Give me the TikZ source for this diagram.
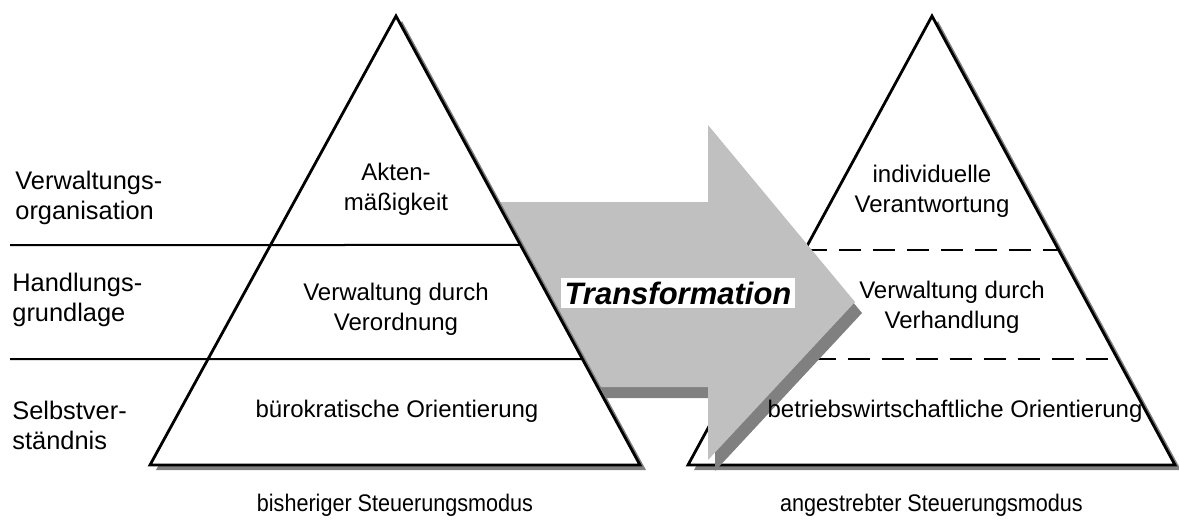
\documentclass[tikz,border=0pt]{standalone}
\usepackage{fontspec}
\setmainfont{Liberation Sans}
\newfontfamily\narrowsans[FakeStretch=0.9]{Liberation Sans}
\usepackage{xcolor}
\usepackage{tikz}
\usetikzlibrary{positioning,calc}

\definecolor{arrowgray}{HTML}{C0C0C0}
\definecolor{shadowgray}{HTML}{808080}

\begin{document}
\begin{tikzpicture}[x=0.5pt, y=-0.5pt, node distance=20pt,
		font=\fontsize{12}{15}\selectfont,
		pyramid/.style={draw, fill=white, line width=1.4pt},
		pshadow/.style={fill=shadowgray, draw=none},
		level/.style={line width=1pt},
		dlevel/.style={line width=1pt, dash pattern=on 11pt off 6pt},
		rowlabel/.style={align=left, anchor=west, inner sep=0pt, font=\fontsize{12.7}{15}\selectfont},
		field/.style={align=center, inner sep=0pt},
		caption/.style={inner sep=0pt, font=\narrowsans\fontsize{12}{15}\selectfont},
		trafo/.style={fill=white, inner sep=2pt, font=\fontsize{15.5}{18}\selectfont\bfseries\itshape}]
		\useasboundingbox (0,0) rectangle (1179,526);

		\coordinate (Ltop) at (396,16);
		\coordinate (Lleft) at (150,465);
		\coordinate (Lright) at (640,465);
		\coordinate (Rtop) at (932,16);
		\coordinate (Rleft) at (688,465);
		\coordinate (Rright) at (1175,465);

		% angestrebter Modus
		\fill[pshadow] ($(Rtop)+(6,5)$) -- ($(Rleft)+(6,5)$) -- ($(Rright)+(6,5)$) -- cycle;
		\draw[pyramid] (Rtop) -- (Rleft) -- (Rright) -- cycle;
		\draw[dlevel] ($(Rtop)!0.521!(Rleft)$) -- ($(Rtop)!0.521!(Rright)$);
		\draw[dlevel] ($(Rtop)!0.764!(Rleft)$) -- ($(Rtop)!0.764!(Rright)$);

		% Pfeil mit Schatten
		\foreach \dx/\dy/\col in {7/11/shadowgray, 0/0/arrowgray}
			\fill[\col, shift={(\dx,\dy)}] (480,202) -- (708,202) -- (708,125) -- (855,302)
				-- (708,460) -- (708,387) -- (480,387) -- cycle;

		% bisheriger Modus
		\fill[pshadow] ($(Ltop)+(6,5)$) -- ($(Lleft)+(6,5)$) -- ($(Lright)+(6,5)$) -- cycle;
		\draw[pyramid] (Ltop) -- (Lleft) -- (Lright) -- cycle;
		\coordinate (rowA) at (10,245);
		\coordinate (rowB) at (10,359);
		\draw[level] (rowA) -- ($(Ltop)!0.510!(Lright)$);
		\draw[level] (rowB) -- ($(Ltop)!0.764!(Lright)$);

		\node[trafo] (trafo) at (678,293) {Transformation};

		\node[rowlabel] (orga) at (15,198) {Verwaltungs-\\organisation};
		\node[rowlabel] (basis) at (12,300) {Handlungs-\\grundlage};
		\node[rowlabel] (self) at (12,425) {Selbstver-\\ständnis};

		\node[field] (akten) at (396,189) {Akten-\\mäßigkeit};
		\node[field] (verord) at (396,309) {Verwaltung durch\\Verordnung};
		\node[field] (buero) at (397,411) {bürokratische Orientierung};

		\node[field] (indiv) at (932,191) {individuelle\\Verantwortung};
		\node[field] (verhand) at (952,307) {Verwaltung durch\\Verhandlung};
		\node[field] (betrieb) at (955,411) {betriebswirtschaftliche Orientierung};

		\node[caption] (oldmode) at ($(Lleft)!0.5!(Lright)+(0,40)$) {bisheriger Steuerungsmodus};
		\node[caption] (newmode) at ($(Rleft)!0.5!(Rright)+(0,40)$) {angestrebter Steuerungsmodus};
	\end{tikzpicture}
\end{document}
